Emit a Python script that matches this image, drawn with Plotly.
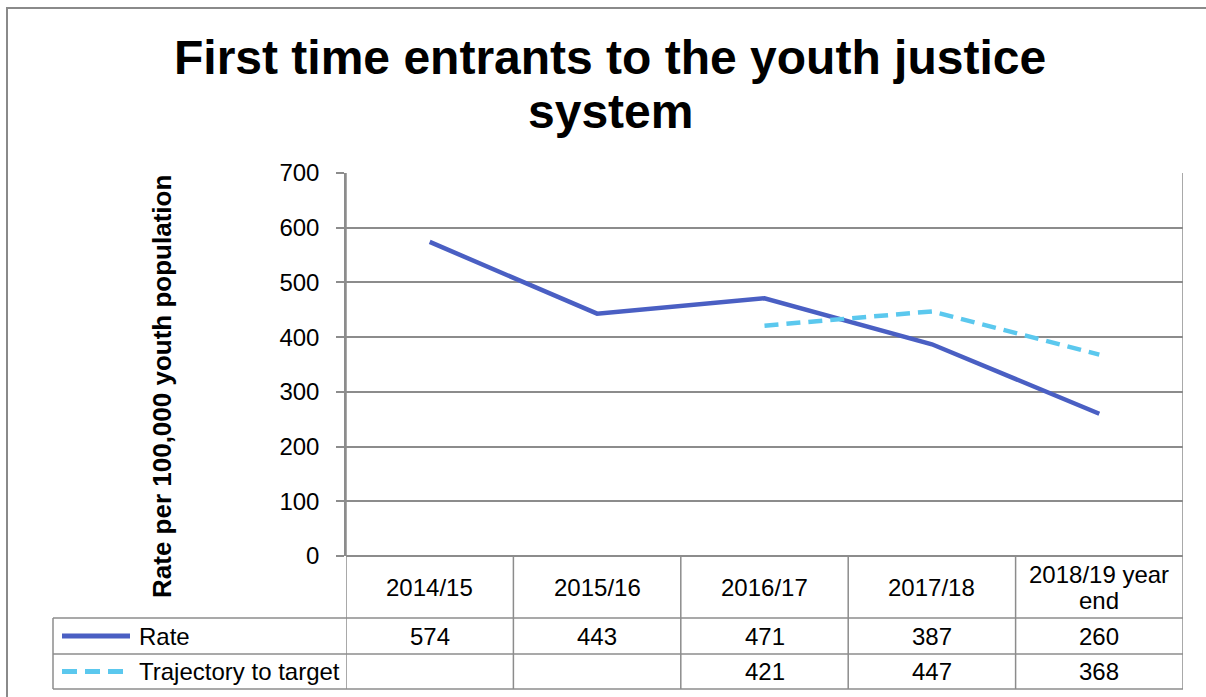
import plotly.graph_objects as go

# ---- data ----
categories = ["2014/15", "2015/16", "2016/17", "2017/18", "2018/19 year end"]
header_lines = [["2014/15"], ["2015/16"], ["2016/17"], ["2017/18"], ["2018/19 year", "end"]]
rate = [574, 443, 471, 387, 260]
trajectory = [None, None, 421, 447, 368]
series_names = ["Rate", "Trajectory to target"]
y_ticks = [0, 100, 200, 300, 400, 500, 600, 700]

# ---- layout geometry (pixels) ----
W, H = 1206, 697
L, R, T, B = 346, 1183, 173, 556
ROW_HDR, ROW1, ROW2 = 618, 654, 689
LEG_L = 53

RATE_COLOR = "#4A5FC3"
TRAJ_COLOR = "#5BC8EE"
GRID = "#8C8C8C"
FONT = "Arial, Liberation Sans, sans-serif"


def px_x(px):
    return (px - L) / (R - L)


def px_y(py):
    return (B - py) / (B - T)


fig = go.Figure()
fig.add_trace(go.Scatter(x=list(range(len(categories))), y=rate, mode="lines",
                         name=series_names[0],
                         line=dict(color=RATE_COLOR, width=4.5), showlegend=False))
fig.add_trace(go.Scatter(x=list(range(len(categories))), y=trajectory, mode="lines",
                         name=series_names[1],
                         line=dict(color=TRAJ_COLOR, width=4.5, dash="14px,8px"),
                         showlegend=False))

shapes = []


def hline(py, x0, x1):
    shapes.append(dict(type="line", xref="paper", yref="paper",
                       x0=px_x(x0), x1=px_x(x1), y0=px_y(py), y1=px_y(py),
                       line=dict(color=GRID, width=1.5)))


def vline_x(xv, y0, y1):
    shapes.append(dict(type="line", xref="x", yref="paper",
                       x0=xv, x1=xv, y0=px_y(y0), y1=px_y(y1),
                       line=dict(color=GRID, width=1.5)))


# table grid
n = len(categories)
for i in range(n + 1):
    xv = i - 0.5
    if i == 0 or i == n:
        vline_x(xv, T, ROW2)
    else:
        vline_x(xv, B, ROW2)
for py in (ROW_HDR, ROW1, ROW2):
    hline(py, LEG_L, R)
shapes.append(dict(type="line", xref="paper", yref="paper",
                   x0=px_x(LEG_L), x1=px_x(LEG_L), y0=px_y(ROW_HDR), y1=px_y(ROW2),
                   line=dict(color=GRID, width=1.5)))

# outer chart border
shapes.append(dict(type="rect", xref="paper", yref="paper",
                   x0=px_x(7), x1=px_x(1230), y0=px_y(8), y1=px_y(720),
                   line=dict(color="#8A8A8A", width=2), fillcolor="rgba(0,0,0,0)"))

# legend keys
r1c = (ROW_HDR + ROW1) / 2
r2c = (ROW1 + ROW2) / 2
shapes.append(dict(type="line", xref="paper", yref="paper",
                   x0=px_x(62), x1=px_x(130), y0=px_y(r1c), y1=px_y(r1c),
                   line=dict(color=RATE_COLOR, width=5)))
shapes.append(dict(type="line", xref="paper", yref="paper",
                   x0=px_x(62), x1=px_x(126), y0=px_y(r2c), y1=px_y(r2c),
                   line=dict(color=TRAJ_COLOR, width=5, dash="15px,8px")))

annotations = []
tfont = dict(family=FONT, size=24, color="black")

# header labels
hc = (B + ROW_HDR) / 2
for i, lines in enumerate(header_lines):
    k = len(lines)
    for j, ln in enumerate(lines):
        py = hc + (j - (k - 1) / 2) * 26
        annotations.append(dict(x=i, y=px_y(py), xref="x", yref="paper", text=ln,
                                showarrow=False, font=tfont, xanchor="center", yanchor="middle"))

# values
for row_vals, pyc in ((rate, r1c), (trajectory, r2c)):
    for i, v in enumerate(row_vals):
        if v is None:
            continue
        annotations.append(dict(x=i, y=px_y(pyc), xref="x", yref="paper", text=str(v),
                                showarrow=False, font=tfont, xanchor="center", yanchor="middle"))

# legend labels
for name, pyc in zip(series_names, (r1c, r2c)):
    annotations.append(dict(x=px_x(137), y=px_y(pyc), xref="paper", yref="paper", text=name,
                            showarrow=False, font=tfont, xanchor="left", yanchor="middle"))

# title
title_font = dict(family=FONT, size=48, color="black", weight="bold")
annotations.append(dict(x=px_x(610), y=px_y(57), xref="paper", yref="paper",
                        text="First time entrants to the youth justice",
                        showarrow=False, font=title_font, xanchor="center", yanchor="middle"))
annotations.append(dict(x=px_x(610), y=px_y(111), xref="paper", yref="paper",
                        text="system",
                        showarrow=False, font=title_font, xanchor="center", yanchor="middle"))

# y-axis title
annotations.append(dict(x=px_x(162), y=px_y(387), xref="paper", yref="paper",
                        text="Rate per 100,000 youth population", textangle=-90,
                        showarrow=False,
                        font=dict(family=FONT, size=26, color="black", weight="bold"),
                        xanchor="center", yanchor="middle"))

fig.update_layout(
    width=W, height=H,
    margin=dict(l=L, r=W - R, t=T, b=H - B, pad=0),
    paper_bgcolor="white", plot_bgcolor="white",
    shapes=shapes, annotations=annotations,
    xaxis=dict(range=[-0.5, n - 0.5], showticklabels=False, showgrid=False,
               zeroline=False, showline=False, ticks=""),
    yaxis=dict(range=[0, 700], tickvals=y_ticks, showgrid=True, gridcolor=GRID, gridwidth=1.5,
               zeroline=True, zerolinecolor=GRID, zerolinewidth=1.5,
               showline=True, linecolor=GRID, linewidth=1.5,
               ticks="outside", ticklen=8, tickcolor=GRID, tickwidth=1.5,
               ticklabelstandoff=12,
               tickfont=dict(family=FONT, size=24, color="black")),
    showlegend=False,
)

fig.write_html("out.html")
